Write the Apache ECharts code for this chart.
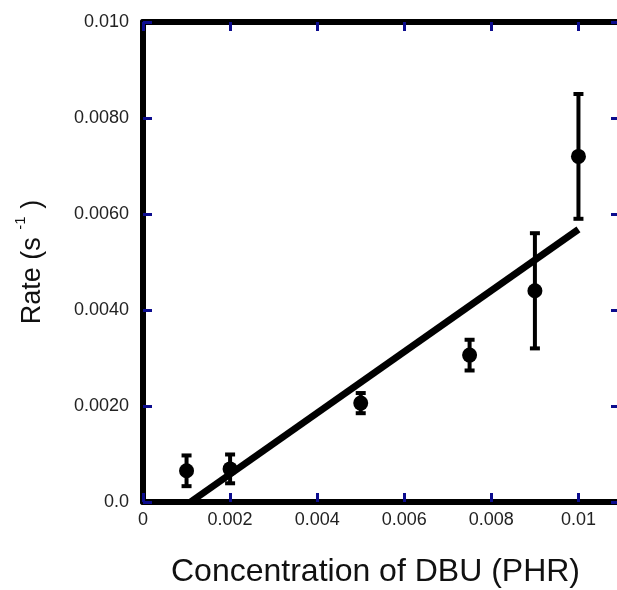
<!DOCTYPE html>
<html>
<head>
<meta charset="utf-8">
<script src="https://cdn.jsdelivr.net/npm/echarts@6/dist/echarts.min.js"></script>
<style>html,body{margin:0;padding:0;background:#fff;}#c{width:617px;height:590px;}</style>
</head>
<body>
<div id="c"></div>
<script>
var concentration = [0.001, 0.002, 0.005, 0.0075, 0.009, 0.01];
var rate = [0.00065, 0.00069, 0.00206, 0.00306, 0.0044, 0.0072];
var rateError = [0.00032, 0.0003, 0.00021, 0.00032, 0.0012, 0.0013];
var fitX = [0.00109, 0.01];
var fitY = [0.0, 0.00568];

var chart = echarts.init(document.getElementById('c'), null, {renderer: 'canvas'});
var font = '"Liberation Sans", Arial, Helvetica, sans-serif';
var tickBlue = '#0c0c8e';

function yFmt(v) {
  if (Math.abs(v) < 1e-12) return '0.0';
  if (Math.abs(v - 0.01) < 1e-9) return '0.010';
  return v.toFixed(4);
}
function xFmt(v) {
  if (Math.abs(v) < 1e-12) return '0';
  if (Math.abs(v - 0.01) < 1e-9) return '0.01';
  if (v > 0.0105) return '';
  return v.toFixed(3);
}

var scatterData = concentration.map(function (x, i) { return [x, rate[i]]; });
var errData = concentration.map(function (x, i) { return [x, rate[i] - rateError[i], rate[i] + rateError[i]]; });
var fitData = fitX.map(function (x, i) { return [x, fitY[i]]; });

var option = {
  backgroundColor: '#fff',
  animation: false,
  grid: {left: 143, top: 22, bottom: 88, right: -5, containLabel: false, outerBoundsMode: 'none'},
  xAxis: [{
    type: 'value', min: 0, max: 0.011, interval: 0.002, position: 'bottom',
    name: 'Concentration of DBU (PHR)', nameLocation: 'middle', nameGap: 54,
    nameTextStyle: {fontFamily: font, fontSize: 32, color: '#111', padding: [0, 14, 0, 0]},
    axisLine: {show: true, onZero: false, lineStyle: {color: '#000', width: 6}},
    axisTick: {show: true, inside: true, length: 9, lineStyle: {color: tickBlue, width: 3}},
    axisLabel: {formatter: xFmt, fontFamily: font, fontSize: 18, color: '#222', margin: 9, showMaxLabel: false},
    splitLine: {show: false}
  }, {
    type: 'value', min: 0, max: 0.011, interval: 0.002, position: 'top',
    axisLine: {show: true, onZero: false, lineStyle: {color: '#000', width: 6}},
    axisTick: {show: true, inside: true, length: 9, lineStyle: {color: tickBlue, width: 3}},
    axisLabel: {show: false}, splitLine: {show: false}
  }],
  yAxis: [{
    type: 'value', min: 0, max: 0.01, interval: 0.002, position: 'left',
    name: 'Rate (s {sup|-1} )', nameLocation: 'middle', nameGap: 91, nameRotate: 90,
    nameTextStyle: {fontFamily: font, fontSize: 27, color: '#111',
      rich: {sup: {fontFamily: font, fontSize: 15, color: '#111', verticalAlign: 'top', padding: [0, 0, 24, 0]}}},
    axisLine: {show: true, onZero: false, lineStyle: {color: '#000', width: 6}},
    axisTick: {show: true, inside: true, length: 9, lineStyle: {color: tickBlue, width: 3}},
    axisLabel: {formatter: yFmt, fontFamily: font, fontSize: 18, color: '#222', margin: 14},
    splitLine: {show: false}
  }, {
    type: 'value', min: 0, max: 0.01, interval: 0.002, position: 'right',
    axisLine: {show: true, onZero: false, lineStyle: {color: '#000', width: 6}},
    axisTick: {show: true, inside: true, length: 11, lineStyle: {color: tickBlue, width: 3}},
    axisLabel: {show: false}, splitLine: {show: false}
  }],
  series: [{
    type: 'line', data: fitData, showSymbol: false, symbol: 'none',
    lineStyle: {color: '#000', width: 7}, z: 3
  }, {
    type: 'custom', data: errData, z: 4,
    renderItem: function (params, api) {
      var x = api.value(0);
      var lo = api.coord([x, api.value(1)]);
      var hi = api.coord([x, api.value(2)]);
      var cw = 5;
      var st = {stroke: '#000', lineWidth: 4};
      return {type: 'group', children: [
        {type: 'line', shape: {x1: lo[0], y1: lo[1], x2: hi[0], y2: hi[1]}, style: st},
        {type: 'line', shape: {x1: lo[0] - cw, y1: lo[1], x2: lo[0] + cw, y2: lo[1]}, style: st},
        {type: 'line', shape: {x1: hi[0] - cw, y1: hi[1], x2: hi[0] + cw, y2: hi[1]}, style: st}
      ]};
    }
  }, {
    type: 'scatter', data: scatterData, symbol: 'circle', symbolSize: 15,
    itemStyle: {color: '#000', opacity: 1}, z: 5
  }]
};
chart.setOption(option);
</script>
</body>
</html>
